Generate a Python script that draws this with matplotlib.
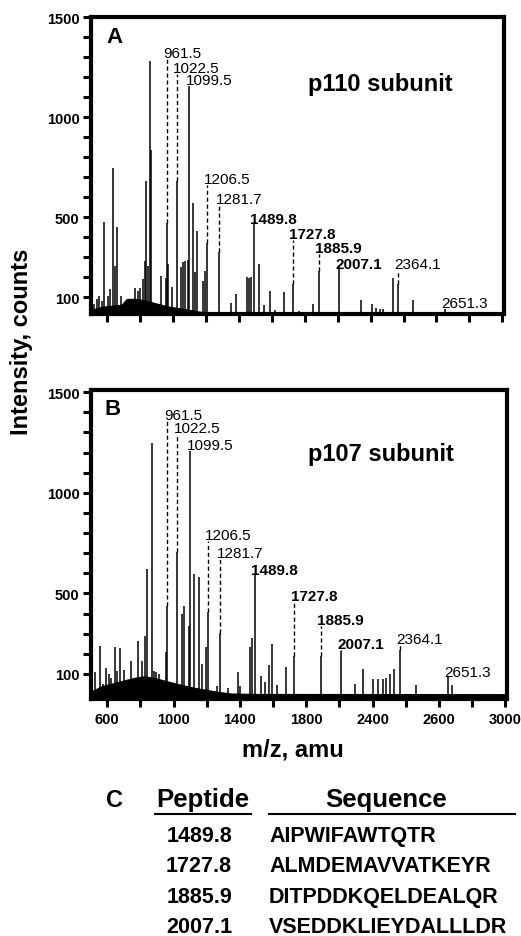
import numpy as np
import matplotlib.pyplot as plt

plt.rcParams['font.family'] = ['Liberation Sans', 'DejaVu Sans']

# ---- panel A, p110 subunit: peaks (m/z, counts)
a_mz = [522, 536, 550, 570, 582, 606, 616, 638, 646, 662, 686, 767, 785, 799,
        820, 828, 833, 850, 859, 869, 925, 955, 961.5, 970, 994, 1022.5, 1046,
        1060, 1075, 1090, 1099.5, 1120, 1134, 1146, 1182, 1194, 1206.5, 1281.7,
        1351, 1381, 1451, 1463, 1476, 1489.8, 1521, 1551, 1586, 1622, 1676,
        1727.8, 1766, 1853, 1885.9, 2007.1, 2140, 2208, 2234, 2254, 2274, 2334,
        2364.1, 2459, 2651.3]
a_int = [65, 90, 107, 82, 475, 107, 140, 748, 257, 450, 107, 144, 132, 144,
         190, 282, 679, 256, 1280, 835, 207, 198, 472, 264, 150, 683, 250,
         275, 280, 286, 1154, 572, 225, 433, 182, 232, 371, 326,
         70, 115, 202, 196, 202, 467, 266, 60, 132, 35, 124,
         166, 30, 65, 231, 256, 85, 65, 45, 40, 40, 196,
         166, 87, 40]
# unresolved baseline hump (upper edge of the black mass)
a_hump_mz = [500, 506, 566, 686, 716, 767, 827, 887, 968, 1068, 1188, 1288, 1389, 1500, 3010]
a_hump_int = [30, 40, 55, 65, 94, 95, 88, 74, 57, 44, 27, 15, 10, 8, 5]
# annotated peaks and where their labels sit (counts)
a_lab_mz = [961.5, 1022.5, 1099.5, 1206.5, 1281.7, 1489.8, 1727.8, 1885.9, 2007.1, 2364.1, 2651.3]
a_lab_y = [1321, 1248, 1186, 692, 589, 492, 416, 345, 267, 267, 72]

# ---- panel B, p107 subunit
b_mz = [525, 554, 575, 594, 608, 620, 647, 660, 677, 700, 743, 783, 810, 826,
        842, 868, 880, 895, 910, 955, 961.5, 1022.5, 1051, 1065, 1091, 1099.5,
        1121, 1150, 1170, 1194, 1206.5, 1260, 1281.7, 1330, 1386, 1400, 1460,
        1474, 1489.8, 1526, 1553, 1575, 1595, 1625, 1678, 1727.8, 1885.9,
        2007.1, 2096, 2140, 2205, 2235, 2265, 2280, 2304, 2330, 2364.1, 2459,
        2651.3, 2680]
b_int = [108, 237, 50, 128, 100, 80, 232, 115, 227, 118, 162, 265, 165, 287,
         621, 1250, 115, 110, 100, 207, 439, 704, 397, 439, 340, 1209,
         596, 580, 150, 232, 409, 40, 303, 30, 111, 40, 232,
         278, 590, 91, 60, 144, 248, 45, 136, 190, 190,
         215, 50, 124, 75, 75, 75, 80, 100, 124, 218, 45,
         91, 45]
b_hump_mz = [493, 504, 564, 644, 703, 763, 823, 882, 961, 1061, 1160, 1279, 1350, 1500, 3020]
b_hump_int = [10, 16, 41, 58, 71, 83, 91, 83, 66, 45, 28, 12, 5, 3, 2]
b_lab_mz = [961.5, 1022.5, 1099.5, 1206.5, 1281.7, 1489.8, 1727.8, 1885.9, 2007.1, 2364.1, 2651.3]
b_lab_y = [1386, 1320, 1237, 790, 699, 618, 488, 369, 248, 273, 111]

bold_labels = [1489.8, 1727.8, 1885.9, 2007.1]

# axis ticks (the original figure prints "2400" under the 2200 tick)
x_ticks = list(range(600, 3001, 200))
x_tick_labels = ['600', '', '1000', '', '1400', '', '1800', '', '2400', '', '2600', '', '3000']
y_ticks = list(range(100, 1501, 100))
y_tick_labels = [str(t) if t in (100, 500, 1000, 1500) else '' for t in y_ticks]

# ---- panel C table
peptides = ['1489.8', '1727.8', '1885.9', '2007.1']
sequences = ['AIPWIFAWTQTR', 'ALMDEMAVVATKEYR', 'DITPDDKQELDEALQR', 'VSEDDKLIEYDALLLDR']


def draw_spectrum(ax, mz, counts, hump_mz, hump_int, lab_mz, lab_y, ylim, show_xlabels):
    mz = np.asarray(mz)
    counts = np.asarray(counts)
    ax.fill_between(hump_mz, ylim[0], hump_int, color='black', lw=0)
    ax.vlines(mz, ylim[0], counts, color='black', lw=1.1)
    for m, y in zip(lab_mz, lab_y):
        top = counts[np.argmin(np.abs(mz - m))]
        if y - 30 > top:
            ax.vlines(m, top, y - 30, color='black', lw=1.0, linestyles=(0, (3, 2)))
        ax.annotate(f'{m:.1f}', (m, y), xytext=(-2.5, 0), textcoords='offset points',
                    ha='left', va='center', fontsize=11,
                    fontweight='bold' if m in bold_labels else 'normal')
    ax.set_xlim(500, 3010)
    ax.set_ylim(*ylim)
    ax.set_xticks(x_ticks, labels=x_tick_labels if show_xlabels else [''] * len(x_ticks))
    ax.set_yticks(y_ticks, labels=y_tick_labels)
    ax.tick_params(axis='both', direction='out', length=6, width=2.2, pad=2,
                   labelsize=10.5)
    ax.tick_params(axis='x', pad=3)
    for lbl in ax.get_xticklabels() + ax.get_yticklabels():
        lbl.set_fontweight('bold')
    for sp in ax.spines.values():
        sp.set_linewidth(3)


fig = plt.figure(figsize=(5.21, 9.37), dpi=100)
W, H = 521, 937

ax_a = fig.add_axes([90.7 / W, 1 - 315 / H, (504 - 90.7) / W, (315 - 18.3) / H])
draw_spectrum(ax_a, a_mz, a_int, a_hump_mz, a_hump_int, a_lab_mz, a_lab_y, (16, 1500), False)
ax_a.text(0.037, 0.934, 'A', transform=ax_a.transAxes, fontsize=16, fontweight='bold',
          ha='left', va='center')
ax_a.text(0.70, 0.778, 'p110 subunit', transform=ax_a.transAxes, fontsize=17,
          fontweight='bold', ha='center', va='center')

ax_b = fig.add_axes([90.7 / W, 1 - 700 / H, (507 - 90.7) / W, (700 - 391) / H])
draw_spectrum(ax_b, b_mz, b_int, b_hump_mz, b_hump_int, b_lab_mz, b_lab_y, (-25, 1511), True)
ax_b.text(0.034, 0.939, 'B', transform=ax_b.transAxes, fontsize=16, fontweight='bold',
          ha='left', va='center')
ax_b.text(0.697, 0.796, 'p107 subunit', transform=ax_b.transAxes, fontsize=17,
          fontweight='bold', ha='center', va='center')

fig.text(22 / W, 1 - 342 / H, 'Intensity, counts', rotation=90, fontsize=17,
         fontweight='bold', ha='center', va='center')
fig.text(293 / W, 1 - 750 / H, 'm/z, amu', fontsize=17, fontweight='bold',
         ha='center', va='center')

# panel C
fig.text(114.5 / W, 1 - 801 / H, 'C', fontsize=17, fontweight='bold', ha='center', va='center')
fig.text(202.5 / W, 1 - 800 / H, 'Peptide', fontsize=18.5, fontweight='bold', ha='center', va='center')
fig.text(386 / W, 1 - 800 / H, 'Sequence', fontsize=18.5, fontweight='bold', ha='center', va='center')
fig.add_artist(plt.Line2D([155 / W, 251 / W], [1 - 815 / H, 1 - 815 / H], color='black', lw=1.5))
fig.add_artist(plt.Line2D([269 / W, 515 / W], [1 - 815 / H, 1 - 815 / H], color='black', lw=1.5))
row_y = [837, 867, 898, 928]
for pep, seq, y in zip(peptides, sequences, row_y):
    fig.text(199 / W, 1 - y / H, pep, fontsize=15.5, fontweight='bold', ha='center', va='center')
    fig.text(269 / W, 1 - y / H, seq, fontsize=15.5, fontweight='bold', ha='left', va='center')

fig.savefig('out.png', dpi=100)
